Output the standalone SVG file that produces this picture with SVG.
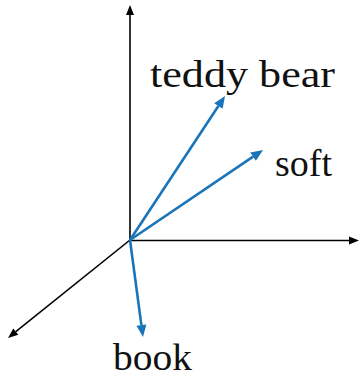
<svg xmlns="http://www.w3.org/2000/svg" width="361" height="378" viewBox="0 0 361 378">
<style>
.axis{stroke:#000;stroke-width:1.6;fill:none}
.vec{stroke:#1a74b9;stroke-width:2.6;fill:none}
.lbl{font-family:"Liberation Serif","DejaVu Serif",serif;font-size:38px;fill:#111}
</style>
<defs>
<marker id="ah" markerUnits="userSpaceOnUse" markerWidth="12" markerHeight="10" refX="0" refY="5" orient="auto" overflow="visible">
<path d="M0,1 L10,5 L0,9 z" fill="#000"/>
</marker>
<marker id="bh" markerUnits="userSpaceOnUse" markerWidth="14" markerHeight="12" refX="0" refY="5" orient="auto" overflow="visible">
<path d="M0,0 L12,5 L0,10 z" fill="#1a74b9"/>
</marker>
</defs>
<rect width="361" height="378" fill="#fff"/>
<g id="connectors">
<line class="axis" x1="130" y1="240" x2="130" y2="15" marker-end="url(#ah)"/>
<line class="axis" x1="130" y1="240.5" x2="349" y2="240.5" marker-end="url(#ah)"/>
<line class="axis" x1="130" y1="240" x2="15.8" y2="331.7" marker-end="url(#ah)"/>
<line class="vec" x1="130" y1="240" x2="218.4" y2="106" marker-end="url(#bh)"/>
<line class="vec" x1="130" y1="240" x2="253.1" y2="156.7" marker-end="url(#bh)"/>
<line class="vec" x1="130" y1="240" x2="141.4" y2="325.1" marker-end="url(#bh)"/>
</g>
<g id="teddy-bear"><text class="lbl" x="150" y="87" textLength="185" lengthAdjust="spacingAndGlyphs">teddy bear</text></g>
<g id="soft"><text class="lbl" x="275" y="176" textLength="57" lengthAdjust="spacingAndGlyphs">soft</text></g>
<g id="book"><text class="lbl" x="113" y="370" font-size="35" textLength="79" lengthAdjust="spacingAndGlyphs">book</text></g>
</svg>
